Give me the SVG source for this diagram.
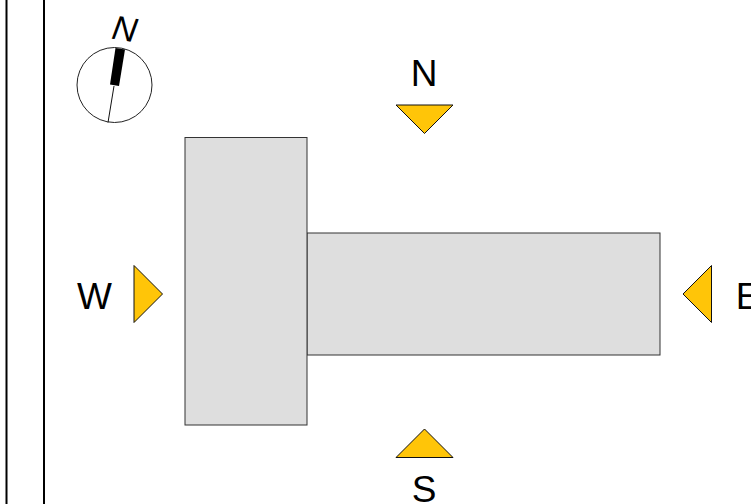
<svg xmlns="http://www.w3.org/2000/svg" width="751" height="504" viewBox="0 0 751 504">
<style>
.b{fill:#dedede;stroke:#333;stroke-width:1}
.a{fill:#ffc508;stroke:#111;stroke-width:1;stroke-linejoin:miter}
.t{font-family:"Liberation Sans",Arial,sans-serif;font-size:37px;fill:#000;text-anchor:middle}
.w{fill:none;stroke:#000;stroke-width:2}
</style>
<rect width="751" height="504" fill="#fff"/>
<g id="site-lines">
<line class="w" x1="6.500" y1="0" x2="6.500" y2="504"/>
<line class="w" x1="44" y1="0" x2="44" y2="504"/>
</g>
<g id="compass">
<circle cx="114.500" cy="85" r="37.500" fill="#fff" stroke="#222" stroke-width="1"/>
<line x1="108" y1="122.500" x2="114" y2="86" stroke="#111" stroke-width="1"/>
<polygon points="115.500,48 125,49.500 119,86 110,84.500" fill="#000"/>
<text class="t" transform="translate(123 40.500) rotate(9)" x="0" y="0" font-style="italic" style="font-size:34px">N</text>
</g>
<g id="building">
<rect class="b" x="307" y="233" width="353" height="122"/>
<rect class="b" x="185" y="137.500" width="122" height="287.500"/>
</g>
<g id="north"><polygon class="a" points="396,105 453,105 424.500,133.500"/><text class="t" x="424" y="86">N</text></g>
<g id="south"><polygon class="a" points="396,457.500 453,457.500 424.500,429"/><text class="t" x="424" y="502">S</text></g>
<g id="west"><polygon class="a" points="134,265.500 134,322.500 162.500,294"/><text class="t" x="94.500" y="309">W</text></g>
<g id="east"><polygon class="a" points="711.500,265.500 711.500,322.500 683,294"/><text class="t" x="748" y="309">E</text></g>
</svg>
